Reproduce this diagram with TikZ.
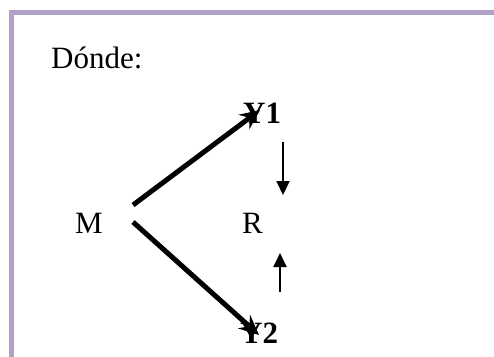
\documentclass[tikz,border=0pt]{standalone}
\usepackage{fontspec}
\setmainfont{Liberation Serif}
\usetikzlibrary{arrows.meta}
\definecolor{framecol}{HTML}{B3A2C7}
\begin{document}
\begin{tikzpicture}[x=1pt,y=-1pt,
  lbl/.style={inner sep=0pt,anchor=base west,font=\fontsize{31}{36}\selectfont},
  bold/.style={lbl,font=\fontsize{31}{36}\selectfont\bfseries},
  thick arrow/.style={line width=5pt,-{Stealth[length=20pt,width=18pt,inset=7pt]}},
  thin arrow/.style={line width=2pt,-{Triangle[length=14pt,width=13pt]}}]
\useasboundingbox (0,0) rectangle (494,356);
\draw[framecol,line width=5pt] (11.5,358) -- (11.5,12.5) -- (496,12.5);
\node[lbl] (d) at (51,68) {Dónde:};
\node[lbl] (m) at (75,233) {M};
\node[lbl] (r) at (242,233) {R};
\node[bold] (y1) at (243,123) {Y1};
\node[bold] (y2) at (240,343) {Y2};
\coordinate (a1s) at (133,205);
\coordinate (a1e) at (260,110);
\coordinate (a2s) at (133,222);
\coordinate (a2e) at (259,335);
\coordinate (ds) at (283,142);
\coordinate (de) at (283,195);
\coordinate (us) at (280,292);
\coordinate (ue) at (280,253);
\draw[thick arrow] (a1s) -- (a1e);
\draw[thick arrow] (a2s) -- (a2e);
\draw[thin arrow] (ds) -- (de);
\draw[thin arrow] (us) -- (ue);
\end{tikzpicture}
\end{document}
